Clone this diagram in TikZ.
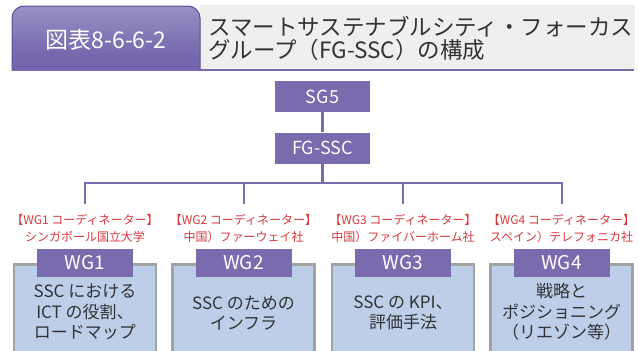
\documentclass[tikz,border=0pt]{standalone}
\usepackage{fontspec}
\setmainfont{Noto Sans CJK JP}
\definecolor{purp}{HTML}{7A6AAE}
\definecolor{tabtop}{HTML}{9A90C6}
\definecolor{tabbot}{HTML}{6858A3}
\definecolor{tabedge}{HTML}{5E4E9C}
\definecolor{redtxt}{HTML}{D8383C}
\definecolor{bluefill}{HTML}{BDCEE9}
\definecolor{grayedge}{HTML}{A2A2A2}
\definecolor{graybg}{HTML}{EFEFEF}
\definecolor{darktxt}{HTML}{333333}
\begin{document}
\begin{tikzpicture}[x=1pt,y=-1pt,
  topbox/.style={fill=purp,text=white,inner sep=0pt,minimum width=95pt,minimum height=31pt,font=\fontsize{18}{18}\selectfont},
  wglabel/.style={fill=purp,text=white,inner sep=0pt,minimum width=96pt,minimum height=28pt,font=\fontsize{19}{19}\selectfont},
  body/.style={fill=bluefill,draw=grayedge,line width=2.5pt,inner sep=0pt,minimum width=142pt,minimum height=120pt,anchor=north},
  bodytxt/.style={text=darktxt,align=center,font=\fontsize{17}{20.5}\selectfont,inner sep=0pt},
  coord/.style={text=redtxt,align=center,font=\fontsize{12}{17}\selectfont,inner sep=0pt},
  link/.style={draw=purp,line width=2.6pt}]
\useasboundingbox (0,0) rectangle (638,351);
\clip (0,0) rectangle (638,351);
% header
\fill[graybg] (200,5) rectangle (635,69);
\begin{scope}
\clip (0,0) rectangle (638,70);
\shade[top color=tabtop,bottom color=tabbot,middle color=tabbot!70!tabtop,draw=tabedge,line width=1pt,rounded corners=12pt]
  (12,6) rectangle (200,100);
\end{scope}
\fill[purp] (12,68.5) rectangle (634,71);
\node[text=white,font=\fontsize{23}{23}\selectfont,inner sep=0pt] (tab) at (106,40) {図表8-6-6-2};
\node[text=darktxt,anchor=west,align=left,font=\fontsize{22.5}{23}\selectfont,inner sep=0pt] (title) at (208,38)
  {スマートサステナブルシティ・フォーカス\\グループ（FG-SSC）の構成};
% top boxes
\node[topbox] (sg5) at (322.5,96.5) {SG5};
\node[topbox] (fg) at (322.5,148) {FG-SSC};
\coordinate (bus) at (322.5,183);
\coordinate (b1) at (85,183);
\coordinate (b2) at (244,183);
\coordinate (b3) at (403,183);
\coordinate (b4) at (562,183);
\coordinate (d1) at (85,204);
\coordinate (d2) at (244,204);
\coordinate (d3) at (403,204);
\coordinate (d4) at (562,204);
\draw[link] (sg5) -- (fg);
\draw[link] (fg) -- (bus);
\draw[link,line cap=rect] (b1) -- (b4);
\draw[link] (b1) -- (d1);
\draw[link] (b2) -- (d2);
\draw[link] (b3) -- (d3);
\draw[link] (b4) -- (d4);
% coordinators
\node[coord] (c1) at (85,228.5) {【WG1 コーディネーター】\\シンガポール国立大学};
\node[coord] (c2) at (243.5,228.5) {【WG2 コーディネーター】\\中国）ファーウェイ社};
\node[coord] (c3) at (403,228.5) {【WG3 コーディネーター】\\中国）ファイバーホーム社};
\node[coord] (c4) at (561.5,228.5) {【WG4 コーディネーター】\\スペイン）テレフォニカ社};
% bodies
\node[body] (w1) at (85,263) {};
\node[body] (w2) at (243.5,263) {};
\node[body] (w3) at (403,263) {};
\node[body] (w4) at (561.5,263) {};
\node[wglabel] (l1) at (85,263) {WG1};
\node[wglabel] (l2) at (243.5,263) {WG2};
\node[wglabel] (l3) at (403,263) {WG3};
\node[wglabel] (l4) at (561.5,263) {WG4};
\node[bodytxt] (t1) at (85,312) {SSC における\\ICT の役割、\\ロードマップ};
\node[bodytxt] (t2) at (243.5,313) {SSC のための\\インフラ};
\node[bodytxt] (t3) at (403,313) {SSC の KPI、\\評価手法};
\node[bodytxt] (t4) at (561.5,312) {戦略と\\ポジショニング\\（リエゾン等）};
\end{tikzpicture}
\end{document}
